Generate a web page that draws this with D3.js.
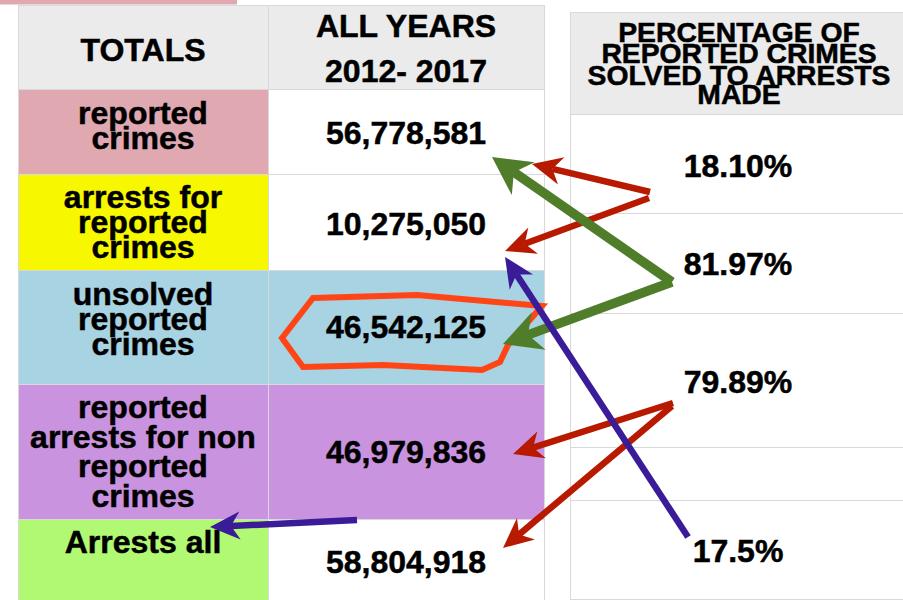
<!DOCTYPE html>
<html><head><meta charset="utf-8">
<script src="https://cdn.jsdelivr.net/npm/d3@7"></script>
<style>body{margin:0;background:#fff}svg{display:block}text{font-family:"Liberation Sans",Arial,Helvetica,sans-serif;font-weight:bold;fill:#000;stroke:#000;stroke-width:0.5px}</style>
</head><body><div id="chart"></div>
<script>
// ---- data ----
const headerLeft = ["TOTALS"];
const headerMid = ["ALL YEARS", "2012- 2017"];
const headerRight = ["PERCENTAGE OF", "REPORTED CRIMES", "SOLVED TO ARRESTS", "MADE"];
const categories = [
  ["reported", "crimes"],
  ["arrests for", "reported", "crimes"],
  ["unsolved", "reported", "crimes"],
  ["reported", "arrests for non", "reported", "crimes"],
  ["Arrests all"]
];
const totals = [56778581, 10275050, 46542125, 46979836, 58804918];
const percentages = ["18.10%", "81.97%", "79.89%", "", "17.5%"];
// arrows: from percentage row -> to totals row
const arrowLinks = [
  {from: 0, to: 0, color: "red"}, {from: 0, to: 1, color: "red"},
  {from: 1, to: 0, color: "green"}, {from: 1, to: 2, color: "green"},
  {from: 2, to: 3, color: "red"}, {from: 2, to: 4, color: "red"},
  {from: 4, to: 1, color: "blue"}, {from: "total4", to: "label4", color: "blue"}
];

// ---- layout ----
const W = 903, H = 600;
const catFill = ["#e0a9b2", "#f7f700", "#a8d3e2", "#c993df", "#b1f972"];
const midFill = ["#ffffff", "#ffffff", "#a8d3e2", "#c993df", "#ffffff"];
const leftRowEdges = [89, 174, 270, 384, 519, 640];
const rightRowEdges = [114, 213, 313, 447, 500, 599];
const labelFirstBase = [124, 208, 305, 418, 553];
const labelStep = [24.5, 25, 25, 29.7, 0];
const numBase = [144, 235, 338, 463, 573];
const pctBase = [177, 275, 393, 0, 562];

const svg = d3.select("#chart").append("svg").attr("width", W).attr("height", H);
const x = d3.scaleOrdinal().domain(["label", "total"]).range([18, 268]);
const colW = {label: 250, total: 276};
const grid = "#d9d9d9";

// top pink strip
svg.append("rect").attr("x", 0).attr("y", 0).attr("width", 237).attr("height", 4.5).attr("fill", "#e0a9b2");

// left table header
svg.append("rect").attr("x", 18).attr("y", 5).attr("width", 526).attr("height", 84).attr("fill", "#ebebeb");
svg.append("text").attr("x", 143).attr("y", 61).attr("text-anchor", "middle").attr("font-size", 32).text(headerLeft[0]);
svg.selectAll(".hm").data(headerMid).enter().append("text")
  .attr("x", 406).attr("y", (d, i) => 37 + i * 45).attr("text-anchor", "middle").attr("font-size", 32).text(d => d);

// left rows
const rows = svg.selectAll(".row").data(categories).enter().append("g");
rows.append("rect").attr("x", x("label")).attr("y", (d, i) => leftRowEdges[i])
  .attr("width", colW.label).attr("height", (d, i) => leftRowEdges[i + 1] - leftRowEdges[i])
  .attr("fill", (d, i) => catFill[i]);
rows.append("rect").attr("x", x("total")).attr("y", (d, i) => leftRowEdges[i])
  .attr("width", colW.total).attr("height", (d, i) => leftRowEdges[i + 1] - leftRowEdges[i])
  .attr("fill", (d, i) => midFill[i]);

// left grid
[5].concat(leftRowEdges.slice(0, 5)).forEach(y => svg.append("line").attr("x1", 18).attr("x2", 544).attr("y1", y + 0.5).attr("y2", y + 0.5).attr("stroke", grid));
[18, 268, 544].forEach(xx => svg.append("line").attr("x1", xx + 0.5).attr("x2", xx + 0.5).attr("y1", 5).attr("y2", 600).attr("stroke", grid));

// right table
svg.append("rect").attr("x", 570).attr("y", 12).attr("width", 340).attr("height", 102).attr("fill", "#ebebeb");
[12].concat(rightRowEdges).forEach(y => svg.append("line").attr("x1", 570).attr("x2", 903).attr("y1", y + 0.5).attr("y2", y + 0.5).attr("stroke", grid));
svg.append("line").attr("x1", 570.5).attr("x2", 570.5).attr("y1", 12).attr("y2", 600).attr("stroke", grid);
svg.selectAll(".hr").data(headerRight).enter().append("text")
  .attr("x", 739).attr("y", (d, i) => [42, 63, 85, 104][i]).attr("text-anchor", "middle")
  .attr("font-size", 28.3).text(d => d);

// texts
rows.each(function (lines, i) {
  const g = d3.select(this);
  lines.forEach((ln, j) => g.append("text").attr("x", 143).attr("y", labelFirstBase[i] + j * labelStep[i])
    .attr("text-anchor", "middle").attr("font-size", 32).text(ln));
});
const fmt = d3.format(",");
rows.append("text").attr("x", 406).attr("y", (d, i) => numBase[i]).attr("text-anchor", "middle").attr("font-size", 32)
  .text((d, i) => fmt(totals[i]));
svg.selectAll(".pct").data(percentages).enter().filter(d => d !== "").append("text")
  .attr("x", 738).attr("y", (d, i) => pctBase[percentages.indexOf(d)]).attr("text-anchor", "middle").attr("font-size", 32).text(d => d);

// highlight outline around unsolved total
const outline = [[313, 298], [417, 295], [542, 306], [508, 345], [500, 362], [482, 370], [383, 365], [303, 367], [282, 338]];
svg.append("path").attr("d", d3.line()(outline) + "Z").attr("fill", "none").attr("stroke", "#ff4515").attr("stroke-width", 6).attr("stroke-linejoin", "miter");

// arrows
const colors = {red: "#b81a00", green: "#4f7d2a", blue: "#3a1c98"};
const widths = {red: 6.5, green: 9.5, blue: 6.5};
const heads = {red: [30, 14], green: [38, 20], blue: [30, 14]};
const anchorsFrom = {0: [650, 192], 1: [672, 282], 2: [673, 403], 4: [688, 537], total4: [357, 520]};
const fromAlt = {"0-1": [649, 198], "2-4": [672, 406]};
const anchorsTo = {"0-0": [532, 164], "0-1": [505, 251], "1-0": [492, 157], "1-2": [503, 344],
  "2-3": [513, 454], "2-4": [503, 548], "4-1": [505, 257], "total4-label4": [210, 527]};
function arrow(s, t, c) {
  const [x1, y1] = s, [x2, y2] = t;
  const dx = x2 - x1, dy = y2 - y1, len = Math.hypot(dx, dy);
  const ux = dx / len, uy = dy / len, nx = -uy, ny = ux;
  const [L, Hh] = heads[c];
  const bx = x2 - ux * L * 0.7, by = y2 - uy * L * 0.7;
  svg.append("line").attr("x1", x1).attr("y1", y1).attr("x2", bx).attr("y2", by)
    .attr("stroke", colors[c]).attr("stroke-width", widths[c]);
  const pts = [[x2, y2], [x2 - ux * L + nx * Hh, y2 - uy * L + ny * Hh], [bx, by], [x2 - ux * L - nx * Hh, y2 - uy * L - ny * Hh]];
  svg.append("path").attr("d", d3.line()(pts) + "Z").attr("fill", colors[c]);
}
arrowLinks.forEach(a => {
  const key = a.from + "-" + a.to;
  const s = fromAlt[key] || anchorsFrom[a.from];
  arrow(s, anchorsTo[key], a.color);
});
</script></body></html>
